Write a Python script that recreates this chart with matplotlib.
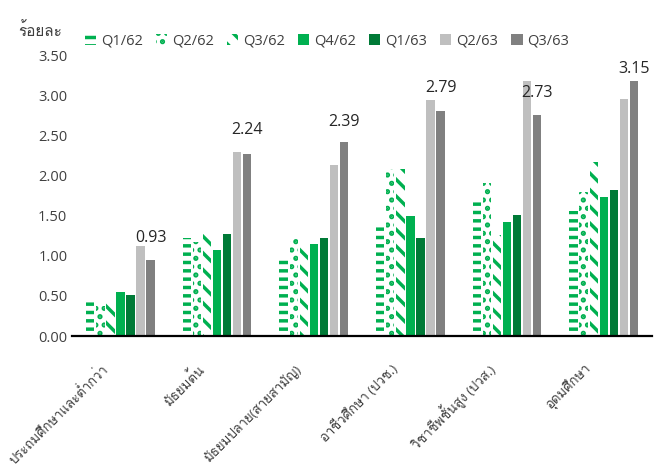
import numpy as np
import matplotlib
matplotlib.use("Agg")
import matplotlib.pyplot as plt
from matplotlib import font_manager
from matplotlib.ft2font import FT2Font
import matplotlib.transforms as mtrans

# data
categories = ["ประถมศึกษาและต่ำกว่า", "มัธยมต้น", "มัธยมปลาย(สายสามัญ)",
              "อาชีวศึกษา (ปวช.)", "วิชาชีพชั้นสูง (ปวส.)", "อุดมศึกษา"]
quarters = ["Q1/62", "Q2/62", "Q3/62", "Q4/62", "Q1/63", "Q2/63", "Q3/63"]
q1_62 = [0.45, 1.22, 0.96, 1.37, 1.67, 1.56]
q2_62 = [0.38, 1.17, 1.22, 2.08, 1.91, 1.80]
q3_62 = [0.41, 1.28, 1.11, 2.08, 1.26, 2.17]
q4_62 = [0.55, 1.08, 1.15, 1.50, 1.42, 1.73]
q1_63 = [0.51, 1.28, 1.22, 1.22, 1.51, 1.82]
q2_63 = [1.12, 2.30, 2.14, 2.95, 3.19, 2.96]
q3_63 = [0.95, 2.27, 2.42, 2.81, 2.76, 3.19]
value_labels = ["0.93", "2.24", "2.39", "2.79", "2.73", "3.15"]
label_heights = [1.23, 2.57, 2.67, 3.10, 3.04, 3.34]

# find a font that can draw Thai
thai_font = None
for f in font_manager.fontManager.ttflist:
    try:
        if 0x0E01 in FT2Font(f.fname).get_charmap():
            thai_font = f.name
            break
    except Exception:
        pass
families = ["Open Sans", thai_font, "DejaVu Sans"] if thai_font else ["Open Sans", "DejaVu Sans"]
plt.rcParams["font.family"] = families
plt.rcParams["hatch.linewidth"] = 2.5

green = "#00B050"
series = [q1_62, q2_62, q3_62, q4_62, q1_63, q2_63, q3_63]
colors = ["white", "white", "white", green, "#007A37", "#BFBFBF", "#808080"]
edges = [green, green, green, green, "#007A37", "#BFBFBF", "#808080"]
hatches = ["--", "..", "\\\\", None, None, None, None]

fig = plt.figure(figsize=(6.62, 4.68), dpi=100)
ax = fig.add_axes([0.109, 0.282, 0.876, 0.599])

x = np.arange(len(categories))
step = 0.104
width = 0.086
for i, vals in enumerate(series):
    ax.bar(x + (i - 3) * step, vals, width, color=colors[i], edgecolor=edges[i],
           hatch=hatches[i], linewidth=0, label=quarters[i])

for i, txt in enumerate(value_labels):
    ax.text(x[i] + 3 * step, label_heights[i], txt, ha="center", va="center",
            fontsize=11.5, color="#262626")

ax.set_xlim(-0.5, len(categories) - 0.5)
ax.set_ylim(0, 3.5)
ax.set_yticks(np.arange(0, 3.51, 0.5))
ax.set_yticklabels(["%.2f" % v for v in np.arange(0, 3.51, 0.5)], fontsize=10.5, color="#404040")
ax.set_xticks(x)
ax.set_xticklabels([])
# category labels, rotated, hanging below the axis
offset = mtrans.ScaledTranslation(-0.15, -0.31, fig.dpi_scale_trans)
for i, name in enumerate(categories):
    ax.text(x[i], 0, name, rotation=45, ha="right", va="center", rotation_mode="anchor",
            fontsize=9.5, color="#404040",
            transform=ax.get_xaxis_transform() + offset)
ax.tick_params(length=0)
for s in ["left", "right", "top"]:
    ax.spines[s].set_visible(False)
ax.spines["bottom"].set_linewidth(1.6)

fig.legend(loc="center left", bbox_to_anchor=(0.108, 0.912), ncol=7, frameon=False,
           fontsize=10.5, handlelength=0.8, handleheight=0.8, handletextpad=0.3,
           columnspacing=0.9, labelcolor="#404040")
fig.text(0.027, 0.932, "ร้อยละ", fontsize=11, color="#404040", va="center")

fig.savefig("out.png", dpi=100)
